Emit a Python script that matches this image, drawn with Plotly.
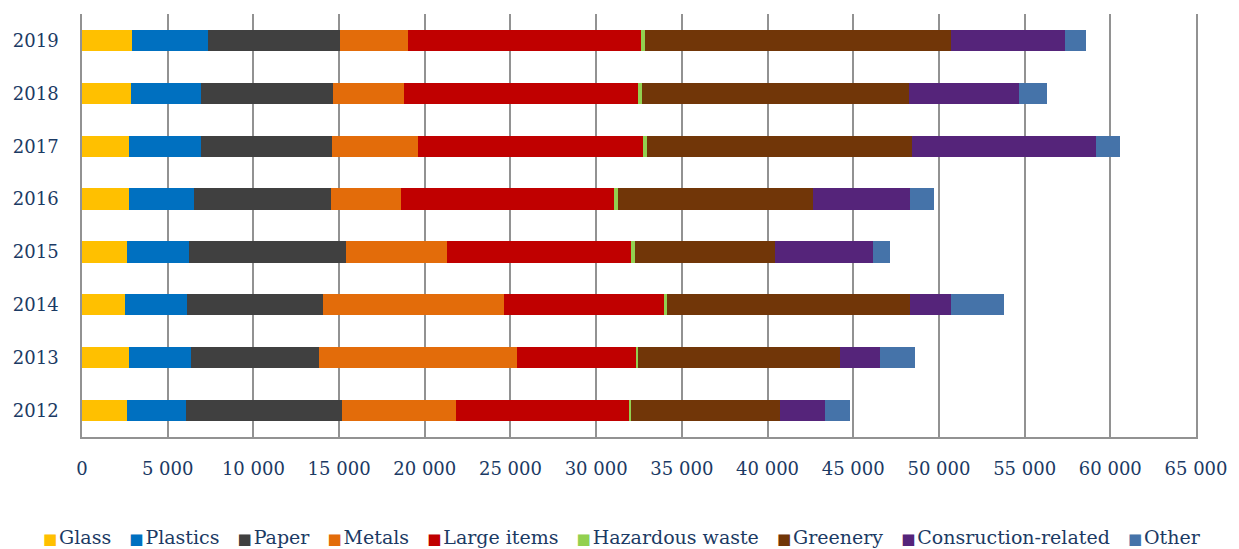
import plotly.graph_objects as go

years = ["2012", "2013", "2014", "2015", "2016", "2017", "2018", "2019"]
glass = [2640, 2755, 2528, 2640, 2755, 2755, 2850, 2940]
plastics = [3400, 3585, 3600, 3585, 3790, 4160, 4070, 4390]
paper = [9145, 7465, 7950, 9170, 7955, 7700, 7700, 7740]
metals = [6620, 11580, 10525, 5905, 4135, 5000, 4180, 3930]
large_items = [10130, 6945, 9360, 10750, 12430, 13115, 13655, 13640]
hazardous = [115, 140, 190, 215, 210, 215, 215, 190]
greenery = [8695, 11750, 14160, 8170, 11365, 15465, 15555, 17900]
construction = [2580, 2320, 2390, 5705, 5685, 10775, 6470, 6655]
other = [1510, 2065, 3080, 995, 1395, 1395, 1585, 1185]

series_names = ["Glass", "Plastics", "Paper", "Metals", "Large items",
                "Hazardous waste", "Greenery", "Consruction-related", "Other"]
series_values = [glass, plastics, paper, metals, large_items,
                 hazardous, greenery, construction, other]
colors = ["#FFC000", "#0070C0", "#404040", "#E36C0A", "#C00000",
          "#92D050", "#713608", "#55247A", "#4573A9"]

TEXT = "#1B3A64"
FONT = "DejaVu Serif"
GRID = "#929292"

fig = go.Figure()
for name, vals, col in zip(series_names, series_values, colors):
    fig.add_trace(go.Bar(
        y=years, x=vals, name=name, orientation="h",
        marker=dict(color=col, line=dict(width=0)),
        showlegend=False,
    ))

legend_parts = []
for name, col in zip(series_names, colors):
    legend_parts.append(
        f"<span style='color:{col};font-family:DejaVu Sans;font-size:15px'>\u25A0</span>"
        f"\u200a{name}"
    )
legend_text = "\u00a0\u00a0\u00a0".join(legend_parts)

fig.add_annotation(
    x=0.485, y=-0.236, xref="paper", yref="paper",
    xanchor="center", yanchor="middle",
    text=legend_text, showarrow=False,
    font=dict(family=FONT, size=19, color=TEXT),
)

fig.update_layout(
    width=1239, height=549,
    margin=dict(l=82, r=39, t=14, b=112),
    paper_bgcolor="white", plot_bgcolor="white",
    barmode="stack", bargap=0.6,
    separators=". ",
    font=dict(family=FONT, color=TEXT),
    xaxis=dict(
        range=[0, 65000], dtick=5000, tick0=0,
        tickformat=",d",
        showgrid=True, gridcolor=GRID, gridwidth=1.5,
        zeroline=False,
        showline=True, linecolor=GRID, linewidth=1.5,
        ticks="", ticklabelstandoff=15,
        tickfont=dict(family=FONT, size=18, color=TEXT),
    ),
    yaxis=dict(
        type="category", categoryorder="array", categoryarray=years,
        showgrid=False, zeroline=False,
        showline=True, linecolor=GRID, linewidth=1.5, mirror=True,
        ticks="", ticklabelstandoff=18,
        tickfont=dict(family=FONT, size=18, color=TEXT),
    ),
)

fig.write_html(
    "out.html",
    config={"displayModeBar": False},
    post_script="document.body.style.margin='0';document.body.style.overflow='hidden';",
)
